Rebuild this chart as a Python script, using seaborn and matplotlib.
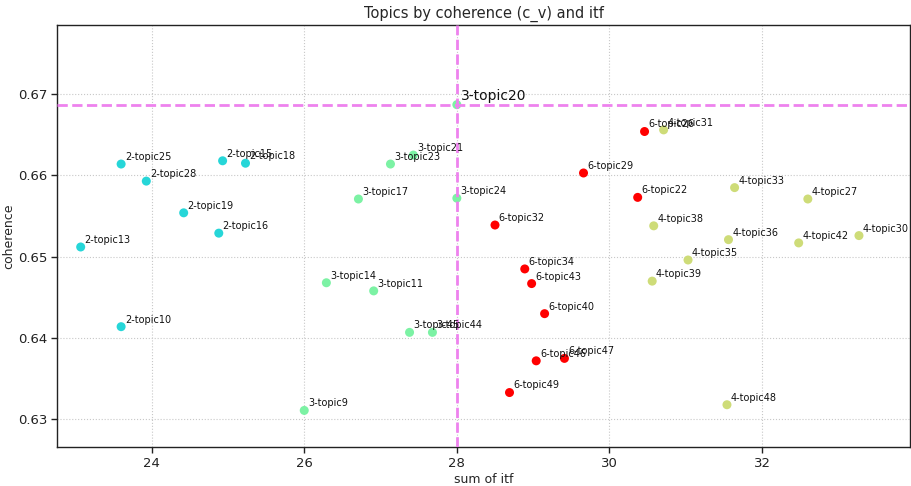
import matplotlib
matplotlib.use("Agg")
import matplotlib.pyplot as plt
import seaborn as sns
import pandas as pd

# Topic models: label, summed itf, and c_v coherence
labels = [
    "2-topic25", "2-topic28", "2-topic15", "2-topic18", "2-topic19",
    "2-topic16", "2-topic13", "2-topic10",
    "3-topic21", "3-topic23", "3-topic17", "3-topic24", "3-topic14",
    "3-topic11", "3-topic45", "3-topic44", "3-topic9", "3-topic20",
    "4-topic31", "4-topic33", "4-topic27", "4-topic38", "4-topic36",
    "4-topic42", "4-topic30", "4-topic35", "4-topic39", "4-topic48",
    "6-topic26", "6-topic29", "6-topic22", "6-topic32", "6-topic34",
    "6-topic43", "6-topic40", "6-topic46", "6-topic47", "6-topic49",
]
itf = [
    23.60, 23.93, 24.93, 25.23, 24.42,
    24.88, 23.07, 23.60,
    27.43, 27.13, 26.71, 28.00, 26.29,
    26.91, 27.38, 27.68, 26.00, 28.00,
    30.71, 31.64, 32.60, 30.58, 31.56,
    32.48, 33.27, 31.03, 30.56, 31.54,
    30.46, 29.66, 30.37, 28.50, 28.89,
    28.98, 29.15, 29.04, 29.41, 28.69,
]
coherence = [
    0.6614, 0.6593, 0.6618, 0.6615, 0.6554,
    0.6529, 0.6512, 0.6414,
    0.6625, 0.6614, 0.6571, 0.6572, 0.6468,
    0.6458, 0.6407, 0.6407, 0.6311, 0.6687,
    0.6656, 0.6585, 0.6571, 0.6538, 0.6521,
    0.6517, 0.6526, 0.6496, 0.6470, 0.6318,
    0.6654, 0.6603, 0.6573, 0.6539, 0.6485,
    0.6467, 0.6430, 0.6372, 0.6375, 0.6333,
]
highlight = "3-topic20"

group_colors = {"2": "#26d6d8", "3": "#7cf2a4", "4": "#cedc78", "6": "#ff0000"}

df = pd.DataFrame({"label": labels, "itf": itf, "coherence": coherence})
df["group"] = df["label"].str.split("-").str[0]

sns.set_style("white")
plt.rcParams.update({
    "font.family": ["DejaVu Sans"],
    "xtick.bottom": True,
    "ytick.left": True,
    "axes.edgecolor": "#222222",
    "axes.linewidth": 1.0,
    "xtick.color": "#222222",
    "ytick.color": "#222222",
})

fig = plt.figure(figsize=(9.11, 4.86), dpi=100)
ax = fig.add_axes([0.0626, 0.0802, 0.9364, 0.8684])

sns.scatterplot(data=df, x="itf", y="coherence", hue="group",
                palette=group_colors, s=42, linewidth=0, legend=False,
                ax=ax, zorder=3)

for lab, x, y in zip(df["label"], df["itf"], df["coherence"]):
    if lab == highlight:
        ax.text(x + 0.05, y + 0.0006, lab, fontsize=10, color="#111111", zorder=5)
    else:
        ax.text(x + 0.05, y + 0.0005, lab, fontsize=7, color="#111111", zorder=5)

hx = df.loc[df["label"] == highlight, "itf"].iloc[0]
hy = df.loc[df["label"] == highlight, "coherence"].iloc[0]
ax.axvline(hx, color="violet", linestyle="--", linewidth=2, zorder=4)
ax.axhline(hy, color="violet", linestyle="--", linewidth=2, zorder=4)

ax.set_xlim(22.76, 33.94)
ax.set_ylim(0.6266, 0.6785)
ax.set_xticks([24, 26, 28, 30, 32])
ax.set_yticks([0.63, 0.64, 0.65, 0.66, 0.67])
ax.grid(True, linestyle=":", color="#c8c8c8", linewidth=0.8, zorder=0)
ax.tick_params(labelsize=9.5, length=4, width=1, pad=3)

ax.set_title("Topics by coherence (c_v) and itf", fontsize=10.5, pad=5)
ax.set_xlabel("sum of itf", fontsize=9, labelpad=2)
ax.set_ylabel("coherence", fontsize=9, labelpad=2)

fig.savefig("out.png", dpi=100)
